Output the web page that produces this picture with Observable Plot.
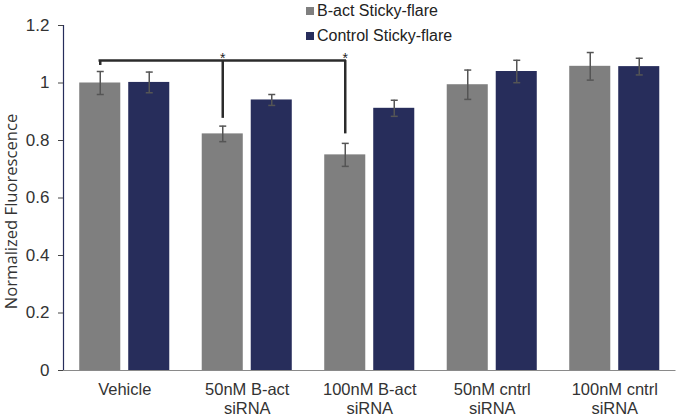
<!DOCTYPE html>
<html>
<head>
<meta charset="utf-8">
<script src="https://cdn.jsdelivr.net/npm/d3@7"></script>
<script src="https://cdn.jsdelivr.net/npm/@observablehq/plot@0.6"></script>
<style>
  html, body { margin: 0; padding: 0; background: #fff; }
  #wrap { position: relative; width: 677px; height: 416px; font-family: "Liberation Sans", Arial, sans-serif; }
  #legend { position: absolute; left: 306px; top: -2px; font-size: 16px; color: #222; }
  .row { display: flex; align-items: center; height: 25px; }
  .sw { width: 8px; height: 8px; margin-right: 3px; }
</style>
</head>
<body>
<div id="wrap"></div>
<script>
// ---- data ----
const groups = ["Vehicle", "50nM B-act\nsiRNA", "100nM B-act\nsiRNA", "50nM cntrl\nsiRNA", "100nM cntrl\nsiRNA"];
const series = ["B-act Sticky-flare", "Control Sticky-flare"];
const bactValues = [1.000, 0.823, 0.750, 0.994, 1.058];
const bactErrors = [0.040, 0.027, 0.040, 0.051, 0.048];
const ctrlValues = [1.002, 0.941, 0.912, 1.040, 1.057];
const ctrlErrors = [0.036, 0.019, 0.028, 0.039, 0.029];
const yTicks = [0, 0.2, 0.4, 0.6, 0.8, 1.0, 1.2];
const yTitle = "Normalized Fluorescence";
// significance bracket (groups compared, bracket height, lower ends of vertical legs)
const sigGroups = [0, 1, 2];
const sigTop = 1.078;
const sigEnds = [1.061, 0.877, 0.823];
const sigStars = [1, 2];

const colors = ["#7f7f7f", "#272d5b"];
const seriesOffset = [-0.2, 0.2];
const halfBar = 0.1675;

const rows = [];
groups.forEach((g, i) => {
  rows.push({gi: i, s: 0, v: bactValues[i], e: bactErrors[i]});
  rows.push({gi: i, s: 1, v: ctrlValues[i], e: ctrlErrors[i]});
});
rows.forEach(r => { r.xc = r.gi + seriesOffset[r.s]; });

const capSymbol = { draw(ctx, size) { const r = Math.sqrt(size / Math.PI); ctx.moveTo(-r, 0); ctx.lineTo(r, 0); } };

const bx = gi => gi + seriesOffset[0];
const legs = sigGroups.map((g, k) => ({x: bx(g), y1: sigEnds[k], y2: sigTop}));

const chart = Plot.plot({
  width: 677,
  height: 416,
  marginTop: 25,
  marginBottom: 46,
  marginLeft: 63,
  marginRight: 1.5,
  style: {fontFamily: "Liberation Sans, Arial, sans-serif", background: "#fff"},
  x: {type: "linear", domain: [-0.5, groups.length - 0.5], axis: null},
  y: {domain: [0, 1.2], axis: null},
  marks: [
    Plot.rectY(rows, {x1: d => d.xc - halfBar, x2: d => d.xc + halfBar, y1: 0, y2: "v", fill: d => colors[d.s]}),
    Plot.ruleX(rows, {x: "xc", y1: d => d.v - d.e, y2: d => d.v + d.e, stroke: "#555", strokeWidth: 1.5}),
    Plot.dot(rows, {x: "xc", y: d => d.v - d.e, symbol: capSymbol, r: 3.5, stroke: "#555", strokeWidth: 1.5}),
    Plot.dot(rows, {x: "xc", y: d => d.v + d.e, symbol: capSymbol, r: 3.5, stroke: "#555", strokeWidth: 1.5}),
    Plot.ruleY([0], {stroke: "#8a8a8a", strokeWidth: 1.2}),
    Plot.ruleX([-0.5], {y1: 0, y2: 1.2, stroke: "#262d5b", strokeWidth: 1.2}),
    Plot.axisY({ticks: yTicks, tickFormat: d => String(+d.toFixed(1)), tickSize: 5, tickPadding: 9, fontSize: 17, stroke: "#444", color: "#333", label: null}),
    Plot.axisX({ticks: d3.range(groups.length), tickFormat: i => groups[i], tickSize: 0, tickPadding: 12, fontSize: 16.5, lineHeight: 1.1, color: "#333", label: null}),
    Plot.text([yTitle], {frameAnchor: "left", textAnchor: "middle", rotate: -90, dx: -52, dy: 13.5, fontFamily: "Open Sans, sans-serif", fontSize: 16.6, fill: "#333"}),
    Plot.ruleX(legs, {x: "x", y1: "y1", y2: "y2", stroke: "#2b2b2b", strokeWidth: 2.5}),
    Plot.ruleY([sigTop], {x1: bx(sigGroups[0]) - 0.01, x2: bx(sigGroups[sigGroups.length - 1]) + 0.01, stroke: "#2b2b2b", strokeWidth: 2.5}),
    Plot.text(sigStars, {x: d => bx(d), y: sigTop, text: () => "*", fontSize: 14, dy: -2, fill: "#222"})
  ]
});

const wrap = document.getElementById("wrap");
wrap.appendChild(chart);

const legend = document.createElement("div");
legend.id = "legend";
series.forEach((s, i) => {
  const row = document.createElement("div");
  row.className = "row";
  const sw = document.createElement("span");
  sw.className = "sw";
  sw.style.background = colors[i];
  const t = document.createElement("span");
  t.textContent = s;
  row.appendChild(sw); row.appendChild(t);
  legend.appendChild(row);
});
wrap.appendChild(legend);
</script>
</body>
</html>
